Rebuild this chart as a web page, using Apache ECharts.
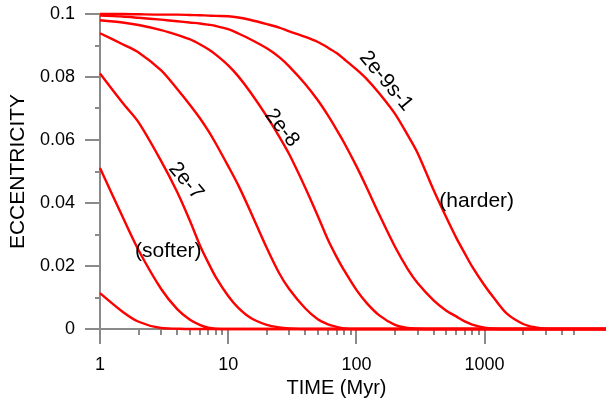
<!DOCTYPE html>
<html><head><meta charset="utf-8">
<script src="https://cdn.jsdelivr.net/npm/echarts@6/dist/echarts.min.js"></script>
<style>html,body{margin:0;padding:0;background:#fff}#c{width:606px;height:401px}</style>
</head><body><div id="c"></div>
<script>
// Time samples (Myr)
const times = [1,1.5,2,3,4,5,6,7,8,10,12,15,20,25,30,40,50,60,70,80,100,120,150,200,250,300,400,500,600,700,800,1000,1200,1500,2000,2500,3000,4000,5000,8850];
// Eccentricity curves, hardest (2e-9 s^-1) to softest
const curveA = [0.1,0.1,0.0999,0.0998,0.0998,0.0997,0.0996,0.0995,0.0994,0.0993,0.0989,0.0981,0.0968,0.0957,0.0945,0.0927,0.0911,0.0893,0.0876,0.0857,0.0824,0.0794,0.0749,0.0683,0.0617,0.0559,0.0441,0.0356,0.029,0.0240,0.0198,0.0138,0.0095,0.0048,0.0016,0.0005,0.0001,0,0,0];
const curveB = [0.0995,0.0992,0.0988,0.0982,0.0977,0.0973,0.097,0.0966,0.0962,0.0952,0.0938,0.0919,0.0891,0.0863,0.0833,0.0777,0.0726,0.0678,0.0633,0.0592,0.0517,0.045,0.0365,0.0261,0.0192,0.0146,0.0091,0.0059,0.004,0.0024,0.0014,0.0004,0.0001,0,0,0,0,0,0,0];
const curveC = [0.098,0.0973,0.0965,0.0949,0.0934,0.092,0.0904,0.0888,0.0871,0.0837,0.0802,0.075,0.0675,0.0611,0.0554,0.0448,0.0359,0.0283,0.0229,0.0187,0.0124,0.0083,0.0044,0.0013,0.0003,0.0001,0,0,0,0,0,0,0,0,0,0,0,0,0,0];
const curveD = [0.0939,0.0904,0.0878,0.0821,0.0762,0.0713,0.067,0.0629,0.0589,0.0517,0.0456,0.0371,0.0257,0.0177,0.0126,0.0065,0.0031,0.0015,0.0007,0.0002,0,0,0,0,0,0,0,0,0,0,0,0,0,0,0,0,0,0,0,0];
const curveE = [0.0811,0.0718,0.0656,0.0533,0.0435,0.0346,0.0267,0.021,0.0165,0.0105,0.0067,0.0035,0.0013,0.0005,0.0002,0,0,0,0,0,0,0,0,0,0,0,0,0,0,0,0,0,0,0,0,0,0,0,0,0];
const curveF = [0.0511,0.0356,0.025,0.0127,0.0063,0.003,0.0013,0.0004,0.0001,0,0,0,0,0,0,0,0,0,0,0,0,0,0,0,0,0,0,0,0,0,0,0,0,0,0,0,0,0,0,0];
const curveG = [0.0114,0.0055,0.0023,0.0003,0.0001,0,0,0,0,0,0,0,0,0,0,0,0,0,0,0,0,0,0,0,0,0,0,0,0,0,0,0,0,0,0,0,0,0,0,0];
const curves = [curveA, curveB, curveC, curveD, curveE, curveF, curveG];
// Axis ticks
const xMajorTicks = [1,10,100,1000];
const xMinorTicks = [2,3,4,5,6,7,8,9,20,30,40,50,60,70,80,90,200,300,400,500,600,700,800,900,2000,3000,4000,5000];
const xLabels = ['1','10','100','1000'];
const yMajorTicks = [0,0.02,0.04,0.06,0.08,0.1];
const yMinorTicks = [0.01,0.03,0.05,0.07,0.09];
// Annotations
const annotations = [
  {text:'2e-9s-1', x:386, y:81, rot:-50},
  {text:'2e-8', x:282, y:128, rot:-51},
  {text:'2e-7', x:186, y:181, rot:-50},
  {text:'(harder)', x:476.7, y:201.7, rot:0},
  {text:'(softer)', x:168.3, y:251.7, rot:0}
];

const FONT = "'Liberation Sans', Arial, sans-serif";
const AX = '#8a8a8a';
const MAJOR_LEN = 15, MINOR_LEN = 6, Y_MINOR_LEN = 5;

const chart = echarts.init(document.getElementById('c'), null, {renderer:'canvas'});
chart.setOption({
  animation:false,
  backgroundColor:'#fff',
  textStyle:{fontFamily:FONT},
  grid:{left:100, right:0, top:14, bottom:72, containLabel:false, outerBoundsMode:'none'},
  xAxis:{
    type:'log', logBase:10, min:1, max:8850, position:'bottom',
    axisLine:{show:true, onZero:false, lineStyle:{color:AX, width:2}},
    axisTick:{show:false},
    axisLabel:{show:true, customValues:xMajorTicks, margin:27, fontSize:18, color:'#000', fontFamily:FONT,
      formatter:function(v){ const i = xMajorTicks.findIndex(t=>Math.abs(Math.log10(t)-Math.log10(v))<1e-6); return i>=0?xLabels[i]:''; }},
    splitLine:{show:false}, minorTick:{show:false},
    name:'TIME (Myr)', nameLocation:'middle', nameGap:48,
    nameTextStyle:{fontSize:20, color:'#000', fontFamily:FONT, padding:[0,33,0,0]}
  },
  yAxis:{
    type:'value', min:0, max:0.1, interval:0.02,
    axisLine:{show:true, onZero:false, lineStyle:{color:AX, width:2}},
    axisTick:{show:false},
    minorTick:{show:false},
    axisLabel:{margin:25, fontSize:18, color:'#000', fontFamily:FONT},
    splitLine:{show:false},
    name:'ECCENTRICITY', nameLocation:'middle', nameGap:61, nameRotate:90,
    nameTextStyle:{fontSize:21, color:'#000', fontFamily:FONT}
  },
  series: curves.map(function(vals){
    return {type:'line', showSymbol:false, symbol:'none', smooth:0.3,
      clip:false, lineStyle:{color:'#ff0000', width:2.4}, z:3, silent:true,
      data: times.map(function(t,i){ return [t, vals[i]]; })};
  })
});

// Tick marks placed through the chart's own scales
function tickGraphics(){
  const els = [];
  const X = function(v){ return chart.convertToPixel({xAxisIndex:0, yAxisIndex:0}, [v, 0]); };
  const Y = function(v){ return chart.convertToPixel({xAxisIndex:0, yAxisIndex:0}, [1, v]); };
  function vtick(v, len){ const p = X(v); const x = Math.round(p[0]), y = Math.round(p[1]);
    els.push({type:'line', shape:{x1:x, y1:y, x2:x, y2:y + len}, style:{stroke:AX, lineWidth:2}, z:1}); }
  function htick(v, len){ const p = Y(v); const x = Math.round(p[0]), y = Math.round(p[1]);
    els.push({type:'line', shape:{x1:x - len, y1:y, x2:x, y2:y}, style:{stroke:AX, lineWidth:2}, z:1}); }
  xMajorTicks.forEach(function(v){ vtick(v, MAJOR_LEN); });
  xMinorTicks.forEach(function(v){ vtick(v, MINOR_LEN); });
  yMajorTicks.forEach(function(v){ htick(v, MAJOR_LEN); });
  yMinorTicks.forEach(function(v){ htick(v, Y_MINOR_LEN); });
  annotations.forEach(function(a){
    els.push({type:'text', x:a.x, y:a.y, rotation:a.rot*Math.PI/180, z:10,
      style:{text:a.text, fontSize:21, fontFamily:FONT, fill:'#000', align:'center', verticalAlign:'middle'}});
  });
  return els;
}
chart.setOption({graphic: tickGraphics()});
</script></body></html>
